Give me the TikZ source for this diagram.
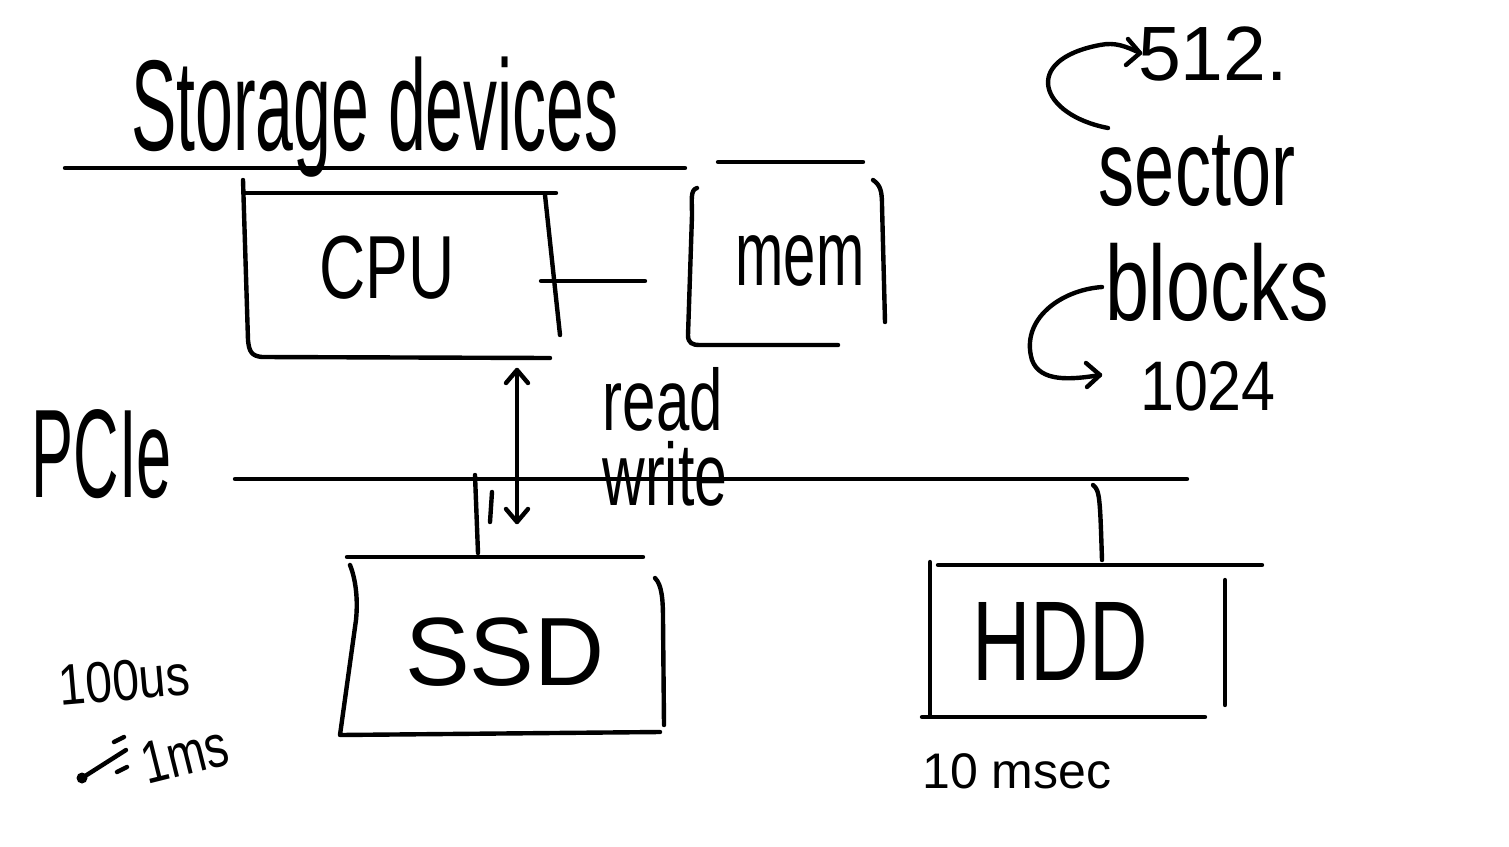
\documentclass[tikz,border=0pt]{standalone}
\usepackage{fontspec}
\setmainfont{Liberation Sans}
\newcommand\hwtext[2]{\scalebox{1}[#1]{#2}}
\begin{document}
\begin{tikzpicture}[x=1pt,y=-1pt,
  pen/.style={line width=4.4pt, line cap=round, line join=round},
  hw/.style={inner sep=0pt, anchor=base}]
\useasboundingbox (0,0) rectangle (1509,846);
\fill[white] (0,0) rectangle (1509,846);

% ---- texts ----
\node[hw, font=\fontsize{68}{72}\selectfont] (title) at (375,150) {\hwtext{1.9}{Storage devices}};
\node[hw, font=\fontsize{64}{70}\selectfont] (cpu) at (387,298) {\hwtext{1.4}{CPU}};
\node[hw, font=\fontsize{58}{64}\selectfont] (mem) at (800,285) {\hwtext{1.6}{mem}};
\node[hw, font=\fontsize{63}{68}\selectfont] (pcie) at (102,497) {\hwtext{2}{PCIe}};
\node[hw, font=\fontsize{60}{66}\selectfont] (read) at (663,430) {\hwtext{1.45}{read}};
\node[hw, font=\fontsize{59}{66}\selectfont] (write) at (665,505) {\hwtext{1.5}{write}};
\node[hw, font=\fontsize{97}{100}\selectfont] (ssd) at (505,685) {SSD};
\node[hw, font=\fontsize{81}{86}\selectfont] (hdd) at (1060,680) {\hwtext{1.4}{HDD}};
\node[hw, font=\fontsize{50}{56}\selectfont] (hddt) at (1017,788) {10 msec};
\node[hw, font=\fontsize{77}{80}\selectfont] (b512) at (1213,80) {512.};
\node[hw, font=\fontsize{72}{76}\selectfont] (sector) at (1197,205) {\hwtext{1.5}{sector}};
\node[hw, font=\fontsize{79}{84}\selectfont] (blocks) at (1217,320) {\hwtext{1.35}{blocks}};
\node[hw, font=\fontsize{61}{66}\selectfont] (b1024) at (1208,410) {\hwtext{1.15}{1024}};
\node[hw, font=\fontsize{48}{54}\selectfont, rotate=5] (t100) at (126,700) {\hwtext{1.2}{100us}};
\node[hw, font=\fontsize{46}{52}\selectfont, rotate=14] (t1ms) at (190,774) {\hwtext{1.3}{1ms}};

% ---- top lines ----
\draw[pen] (65,168) -- (685,168);
\draw[pen] (718,162) -- (863,162);

% ---- CPU box ----
\draw[pen] (245,193) -- (556,193);
\draw[pen] (243,180) -- (248,340) .. controls (249,352) and (252,356) .. (262,357) -- (550,358);
\draw[pen] (545,195) -- (560,335);

% ---- mem box ----
\draw[pen] (697,188) .. controls (690,190) and (692,200) .. (692,215) -- (688,335) .. controls (688,343) and (692,345) .. (700,345) -- (838,345);
\draw[pen] (873,180) .. controls (880,185) and (882,190) .. (882,205) -- (885,322);

% ---- CPU - mem connector ----
\coordinate (cpuR) at (541,281);
\coordinate (memL) at (645,281);
\draw[pen] (cpuR) -- (memL);

% ---- PCIe bus ----
\coordinate (busL) at (235,479);
\coordinate (busR) at (1187,479);
\draw[pen] (busL) -- (busR);

% ---- read/write double arrow ----
\coordinate (rwTop) at (517,370);
\coordinate (rwBot) at (517,522);
\draw[pen] (rwTop) -- (rwBot);
\draw[pen] (rwTop) ++(-11,13) -- (rwTop) -- ++(11,13);
\draw[pen] (rwBot) ++(-11,-13) -- (rwBot) -- ++(11,-13);

% ---- SSD ----
\coordinate (ssdBus) at (475,475);
\coordinate (ssdTop) at (478,553);
\draw[pen] (ssdBus) -- (ssdTop);
\draw[pen] (492,492) -- (490,522);
\draw[pen] (347,557) -- (643,557);
\draw[pen] (350,565) .. controls (356,580) and (358,600) .. (356,620) -- (340,735) -- (660,732);
\draw[pen] (655,578) .. controls (662,585) and (663,600) .. (663,620) -- (664,725);

% ---- HDD ----
\coordinate (hddBus) at (1093,485);
\coordinate (hddTop) at (1102,560);
\draw[pen] (hddBus) .. controls (1100,490) and (1100,500) .. (hddTop);
\draw[pen] (938,565) -- (1262,565);
\draw[pen] (930,562) -- (930,715);
\draw[pen] (922,717) -- (1205,717);
\draw[pen] (1225,580) -- (1225,705);

% ---- small marks near 1ms ----
\draw[pen] (114,742) -- (124,737);
\draw[pen] (117,772) -- (127,767);
\draw[pen] (82,778) -- (126,750);
\fill (82,778) circle (5.5pt);

% ---- curved arrows ----
\coordinate (a1s) at (1108,128);
\coordinate (a1e) at (1140,53);
\draw[pen] (a1s) .. controls (1040,115) and (1020,60) .. (1100,45) .. controls (1115,42) and (1125,46) .. (a1e);
\draw[pen] (a1e) ++(-12,-14) -- (a1e) -- ++(-14,12);
\coordinate (a2s) at (1102,287);
\coordinate (a2e) at (1100,375);
\draw[pen] (a2s) .. controls (1060,290) and (1020,320) .. (1032,360) .. controls (1040,382) and (1070,380) .. (a2e);
\draw[pen] (a2e) ++(-14,-12) -- (a2e) -- ++(-13,12);
\end{tikzpicture}
\end{document}
